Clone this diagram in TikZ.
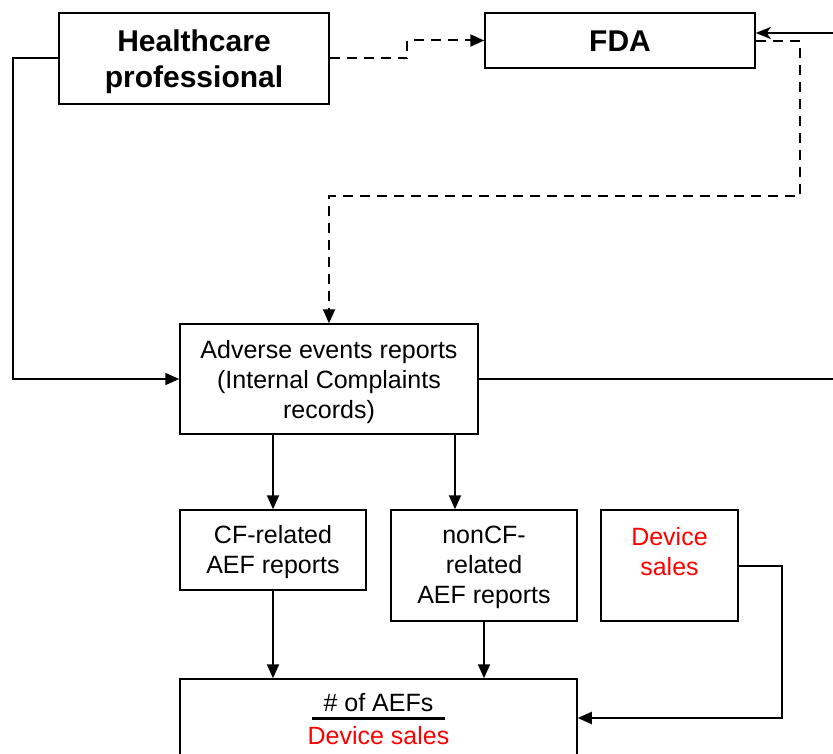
\documentclass[tikz,border=0pt]{standalone}
\usepackage{fontspec}
\setmainfont{Liberation Sans}
\usetikzlibrary{arrows.meta}
\begin{document}
\begin{tikzpicture}[x=1pt,y=-1pt,
  box/.style={draw, line width=1.5pt, inner sep=0pt, align=center, font=\fontsize{25}{30}\selectfont},
  bbox/.style={box, font=\fontsize{30}{36}\selectfont\bfseries},
  conn/.style={line width=2pt, -{Triangle[length=14pt,width=12pt]}},
  dconn/.style={conn, dash pattern=on 10pt off 7pt},
  txt/.style={font=\fontsize{25}{30}\selectfont, inner sep=0pt, align=center}]
\useasboundingbox (0,0) rectangle (833,754);
% boxes
\node[bbox, minimum width=270pt, minimum height=91pt] (hp) at (194,58.5) {};
\node[inner sep=0pt, align=center, font=\fontsize{30}{36}\selectfont\bfseries] (hptxt) at (194,61.5) {Healthcare\\professional};
\node[bbox, minimum width=270pt, minimum height=55pt] (fda) at (620,40.5) {};
\node[inner sep=0pt, font=\fontsize{30}{36}\selectfont\bfseries] (fdatxt) at (620,41.5) {FDA};
\node[box, minimum width=298pt, minimum height=110pt] (aer) at (329,379) {};
\node[txt] (aertxt) at (329,382) {Adverse events reports\\(Internal Complaints\\records)};
\node[box, minimum width=186pt, minimum height=80pt] (cf) at (273,550) {};
\node[txt] (cftxt) at (273,552) {CF-related\\AEF reports};
\node[box, minimum width=186pt, minimum height=111pt] (noncf) at (484,565.5) {};
\node[txt] (noncftxt) at (484,567.5) {nonCF-\\related\\AEF reports};
\node[box, minimum width=137pt, minimum height=111pt] (ds) at (669.5,565.5) {};
\node[txt, text=red] (dstxt) at (669.5,552) {Device\\sales};
\node[box, minimum width=397pt, minimum height=78pt] (res) at (378.5,718) {};
\node[txt] (num) at (378.5,703) {\# of AEFs};
\node[txt, text=red] (den) at (378.5,736) {Device sales};
\draw[line width=3pt] (312,718) -- (445,718);
% connectors
\coordinate (nx) at (455,0);
\draw[conn] (hp.west) -| (13,379) -- (aer.west);
\draw[dconn] (hp.east) -| (407,40.5) -- (fda.west);
\draw[line width=2pt, -{Stealth[length=15pt,width=12pt,inset=4pt]}] (aer.east) -| (860,33) -- ([yshift=7.5pt]fda.east);
\draw[dconn] ([yshift=-1pt]fda.east) -| (800,196) -| (aer.north);
\draw[conn] (aer.south -| cf.north) -- (cf.north);
\draw[conn] (aer.south -| nx) -- (noncf.north -| nx);
\draw[conn] (cf.south) -- (cf.south |- res.north);
\draw[conn] (noncf.south) -- (noncf.south |- res.north);
\draw[conn] (ds.east) -| (782,718) -- (res.east);
\end{tikzpicture}
\end{document}
